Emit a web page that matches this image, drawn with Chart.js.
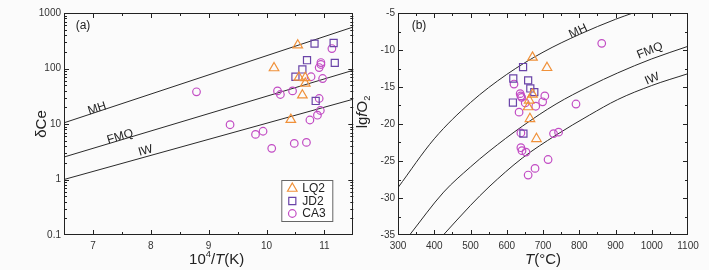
<!DOCTYPE html>
<html>
<head>
<meta charset="utf-8">
<script src="https://cdn.jsdelivr.net/npm/chart.js@4.4.0/dist/chart.umd.min.js"></script>
<style>
  body { margin: 0; background: #fbfbfb; }
  #wrap { position: relative; width: 709px; height: 270px; overflow: hidden; }
  canvas { position: absolute; top: 0; }
</style>
</head>
<body>
<div id="wrap">
  <canvas id="left" width="360" height="270" style="left:0"></canvas>
  <canvas id="right" width="354" height="270" style="left:355px"></canvas>
</div>
<script>
// ---- panel (a): dCe vs 10^4/T(K)
const invTicks = [7, 8, 9, 10, 11];
const ceTicks = [0.1, 1, 10, 100, 1000];
const ceTickLabels = ['0.1', '1', '10', '100', '1000'];

const lq2Inv = [10.54, 10.13, 10.67, 10.67, 10.62, 10.42, 10.56];
const lq2Ce  = [263, 102, 68, 54, 33, 12, 69];
const jd2Inv = [10.83, 11.16, 10.70, 11.18, 10.62, 10.50, 10.85];
const jd2Ce  = [281, 288, 141, 126, 96, 71, 26];
const ca3Inv = [8.79, 11.13, 10.94, 10.94, 10.91, 10.77, 10.97, 10.19, 10.24, 10.45,
                10.91, 10.93, 10.88, 10.75, 9.37, 9.81, 9.94, 10.09, 10.48, 10.69];
const ca3Ce  = [38, 229, 128, 118, 104, 71, 66, 39.5, 34, 39.5,
                28.8, 17.5, 14.4, 11.8, 9.7, 6.5, 7.4, 3.64, 4.47, 4.66];

const bufInv = [6.5, 11.5];
const mhCe  = [10.5, 560];
const fmqCe = [2.54, 93];
const iwCe  = [1.0, 28];

// ---- panel (b): lgfO2 vs T(°C)
const tTicks = [300, 400, 500, 600, 700, 800, 900, 1000, 1100];
const fo2Ticks = [-35, -30, -25, -20, -15, -10, -5];

const lq2T   = [671, 711, 671, 662, 659, 664, 682];
const lq2Fo2 = [-11.0, -12.4, -16.0, -16.8, -17.7, -19.3, -22.0];
const jd2T   = [645, 618, 659, 665, 676, 617, 646];
const jd2Fo2 = [-12.3, -13.85, -14.1, -15.2, -15.7, -17.1, -21.3];
const ca3T   = [620, 637, 639, 641, 651, 634, 680, 699, 705, 791,
                639, 729, 743, 639, 642, 653, 714, 678, 659, 862];
const ca3Fo2 = [-14.6, -15.9, -16.2, -16.4, -17.15, -18.4, -17.6, -17.0, -16.2, -17.3,
                -21.2, -21.3, -21.1, -23.2, -23.6, -23.8, -24.8, -26.0, -26.9, -9.1];

const mhT    = [300, 400, 500, 600, 700, 800, 900, 948];
const mhFo2  = [-28.6, -22.0, -17.1, -13.3, -10.3, -7.9, -5.85, -5.0];
const fmqT   = [332, 426, 500, 551, 643, 736, 828, 906, 1000, 1100];
const fmqFo2 = [-35.0, -29.2, -25.8, -23.7, -20.3, -17.3, -14.9, -13.1, -11.2, -9.5];
const iwT    = [425, 500, 551, 643, 736, 828, 906, 1000, 1100];
const iwFo2  = [-35.0, -31.0, -28.5, -24.6, -21.5, -18.8, -16.7, -14.8, -13.2];

const FONT = '"Liberation Sans", Arial, sans-serif';
const ORANGE = '#f0913a';
const PURPLE = '#6a44a8';
const MAGENTA = '#c24cc4';

function pts(xs, ys) {
    return xs.map((x, i) => ({ x: x, y: ys[i] }));
}

function lineSet(xs, ys) {
    return {
        data: pts(xs, ys), showLine: true, pointRadius: 0, borderColor: '#2a2a2a',
        borderWidth: 1, cubicInterpolationMode: 'monotone', order: 5
    };
}

function markerSet(label, xs, ys, style, color, r) {
    return {
        label: label, data: pts(xs, ys), pointStyle: style, pointRadius: r,
        borderColor: color, backgroundColor: 'rgba(0,0,0,0)', borderWidth: 1.2, order: 1
    };
}

function richText(ctx, parts, x, y, size, angle) {
    ctx.save();
    ctx.translate(x, y);
    ctx.rotate(angle || 0);
    ctx.textBaseline = 'middle';
    ctx.textAlign = 'left';
    ctx.fillStyle = '#222';
    const fonts = parts.map(p => (p.it ? 'italic ' : '') + (size * (p.s || 1)) + 'px ' + FONT);
    let w = 0;
    const ws = parts.map((p, i) => { ctx.font = fonts[i]; const m = ctx.measureText(p.t).width; w += m; return m; });
    let cur = -w / 2;
    parts.forEach((p, i) => {
        ctx.font = fonts[i];
        ctx.fillText(p.t, cur, (p.dy || 0) * size);
        cur += ws[i];
    });
    ctx.restore();
}

function drawMarker(ctx, style, x, y, r, color) {
    ctx.save();
    ctx.strokeStyle = color;
    ctx.lineWidth = 1.2;
    ctx.beginPath();
    if (style === 'triangle') {
        ctx.moveTo(x, y - r);
        ctx.lineTo(x + r * 0.866, y + r * 0.5);
        ctx.lineTo(x - r * 0.866, y + r * 0.5);
        ctx.closePath();
    } else if (style === 'rect') {
        const s = r * Math.SQRT1_2;
        ctx.rect(x - s, y - s, 2 * s, 2 * s);
    } else {
        ctx.arc(x, y, r, 0, Math.PI * 2);
    }
    ctx.stroke();
    ctx.restore();
}

// frame, inward ticks on four sides, titles, curve labels, legend
const framePlugin = {
    id: 'frame',
    afterDraw(chart, args, o) {
        const ctx = chart.ctx;
        const a = chart.chartArea;
        const x = chart.scales.x, y = chart.scales.y;
        ctx.save();
        ctx.strokeStyle = '#222';
        ctx.lineWidth = 1;
        ctx.strokeRect(Math.round(a.left) + 0.5, Math.round(a.top) + 0.5,
                       Math.round(a.width) - 1, Math.round(a.height) - 1);
        ctx.beginPath();
        const tick = (vals, len, horiz) => vals.forEach(v => {
            if (horiz) {
                const p = Math.round(x.getPixelForValue(v)) + 0.5;
                if (p < a.left + 1 || p > a.right - 1) return;
                ctx.moveTo(p, a.bottom); ctx.lineTo(p, a.bottom - len);
                ctx.moveTo(p, a.top); ctx.lineTo(p, a.top + len);
            } else {
                const p = Math.round(y.getPixelForValue(v)) + 0.5;
                if (p < a.top + 1 || p > a.bottom - 1) return;
                ctx.moveTo(a.left, p); ctx.lineTo(a.left + len, p);
                ctx.moveTo(a.right, p); ctx.lineTo(a.right - len, p);
            }
        });
        tick(o.xMajor, 5, true);
        tick(o.xMinor, 3, true);
        tick(o.yMajor, 5, false);
        tick(o.yMinor, 3, false);
        ctx.stroke();
        ctx.restore();

        richText(ctx, o.xTitle, (a.left + a.right) / 2 + o.xTitleDx, 260, 15, 0);
        richText(ctx, o.yTitle, o.yTitleX, (a.top + a.bottom) / 2 + o.yTitleDy, 15, -Math.PI / 2);
        richText(ctx, [{ t: o.tag }], a.left + o.tagDx, a.top + 13, 12, 0);

        o.curveLabels.forEach(l => {
            richText(ctx, [{ t: l.t }], x.getPixelForValue(l.x), y.getPixelForValue(l.y), 12, l.deg * Math.PI / 180);
        });

        if (o.legend) {
            const L = o.legend;
            const bx = a.right - 21 - 51, by = a.bottom - 14 - 41;
            ctx.save();
            ctx.fillStyle = '#ffffff';
            ctx.fillRect(bx, by, 51, 41);
            ctx.strokeStyle = '#666';
            ctx.lineWidth = 1;
            ctx.strokeRect(bx + 0.5, by + 0.5, 51, 41);
            ctx.font = '12px ' + FONT;
            ctx.fillStyle = '#222';
            ctx.textBaseline = 'middle';
            L.forEach((e, i) => {
                const yy = by + 8.5 + i * 12.5;
                drawMarker(ctx, e.style, bx + 11, yy, e.r, e.color);
                ctx.fillText(e.label, bx + 21, yy + 0.5);
            });
            ctx.restore();
        }
    }
};

const logMinor = [];
[0.1, 1, 10, 100].forEach(d => { for (let k = 2; k <= 9; k++) logMinor.push(k * d); });

const tickFont = { family: FONT, size: 10 };
const noGrid = { display: false, drawTicks: false };

new Chart(document.getElementById('left'), {
    type: 'scatter',
    data: {
        datasets: [
            lineSet(bufInv, mhCe), lineSet(bufInv, fmqCe), lineSet(bufInv, iwCe),
            markerSet('LQ2', lq2Inv, lq2Ce, 'triangle', ORANGE, 5.5),
            markerSet('JD2', jd2Inv, jd2Ce, 'rect', PURPLE, 5),
            markerSet('CA3', ca3Inv, ca3Ce, 'circle', MAGENTA, 3.8)
        ]
    },
    plugins: [framePlugin],
    options: {
        responsive: false, animation: false, devicePixelRatio: 1,
        layout: { padding: { left: 0, right: 6, top: 13, bottom: 0 } },
        scales: {
            x: {
                type: 'linear', min: 6.5, max: 11.5,
                afterBuildTicks: s => { s.ticks = invTicks.map(v => ({ value: v })); },
                afterFit: s => { s.height = 35; },
                grid: noGrid, border: { display: false },
                ticks: { font: tickFont, color: '#333', padding: 5, maxRotation: 0, callback: v => String(v) }
            },
            y: {
                type: 'logarithmic', min: 0.1, max: 1000,
                afterBuildTicks: s => { s.ticks = ceTicks.map(v => ({ value: v })); },
                afterFit: s => { s.width = 64; },
                grid: noGrid, border: { display: false },
                ticks: {
                    font: tickFont, color: '#333', padding: 3,
                    callback: v => ceTickLabels[ceTicks.indexOf(v)]
                }
            }
        },
        plugins: {
            legend: { display: false }, tooltip: { enabled: false },
            frame: {
                xMajor: invTicks, xMinor: [7.5, 8.5, 9.5, 10.5, 11.5],
                yMajor: ceTicks, yMinor: logMinor,
                xTitle: [{ t: '10' }, { t: '4', s: 0.62, dy: -0.38 }, { t: '/' }, { t: 'T', it: true }, { t: '(K)' }],
                xTitleDx: 8,
                yTitle: [{ t: 'δCe' }], yTitleX: 42, yTitleDy: 0,
                tag: '(a)', tagDx: 19,
                curveLabels: [
                    { t: 'MH', x: 7.07, y: 19, deg: -18 },
                    { t: 'FMQ', x: 7.47, y: 5.9, deg: -16.5 },
                    { t: 'IW', x: 7.91, y: 3.3, deg: -15.5 }
                ],
                legend: [
                    { label: 'LQ2', style: 'triangle', r: 5.5, color: ORANGE },
                    { label: 'JD2', style: 'rect', r: 5, color: PURPLE },
                    { label: 'CA3', style: 'circle', r: 3.8, color: MAGENTA }
                ]
            }
        }
    }
});

new Chart(document.getElementById('right'), {
    type: 'scatter',
    data: {
        datasets: [
            lineSet(mhT, mhFo2), lineSet(fmqT, fmqFo2), lineSet(iwT, iwFo2),
            markerSet('LQ2', lq2T, lq2Fo2, 'triangle', ORANGE, 5.5),
            markerSet('JD2', jd2T, jd2Fo2, 'rect', PURPLE, 5),
            markerSet('CA3', ca3T, ca3Fo2, 'circle', MAGENTA, 3.8)
        ]
    },
    plugins: [framePlugin],
    options: {
        responsive: false, animation: false, devicePixelRatio: 1,
        layout: { padding: { left: 0, right: 21, top: 13, bottom: 0 } },
        scales: {
            x: {
                type: 'linear', min: 300, max: 1100,
                afterBuildTicks: s => { s.ticks = tTicks.map(v => ({ value: v })); },
                afterFit: s => { s.height = 35; },
                grid: noGrid, border: { display: false },
                ticks: { font: tickFont, color: '#333', padding: 5, maxRotation: 0, callback: v => String(v) }
            },
            y: {
                type: 'linear', min: -35, max: -5,
                afterBuildTicks: s => { s.ticks = fo2Ticks.map(v => ({ value: v })); },
                afterFit: s => { s.width = 43; },
                grid: noGrid, border: { display: false },
                ticks: { font: tickFont, color: '#333', padding: 3, callback: v => String(v) }
            }
        },
        plugins: {
            legend: { display: false }, tooltip: { enabled: false },
            frame: {
                xMajor: tTicks, xMinor: [350, 450, 550, 650, 750, 850, 950, 1050],
                yMajor: fo2Ticks, yMinor: [-32.5, -27.5, -22.5, -17.5, -12.5, -7.5],
                xTitle: [{ t: 'T', it: true }, { t: '(°C)' }],
                xTitleDx: 0,
                yTitle: [{ t: 'lg' }, { t: 'f', it: true }, { t: 'O' }, { t: '2', s: 0.62, dy: 0.3 }],
                yTitleX: 8, yTitleDy: -12,
                tag: '(b)', tagDx: 21,
                curveLabels: [
                    { t: 'MH', x: 797, y: -7.46, deg: -25 },
                    { t: 'FMQ', x: 995, y: -10.1, deg: -22 },
                    { t: 'IW', x: 1001, y: -13.9, deg: -23 }
                ],
                legend: null
            }
        }
    }
});
</script>
</body>
</html>
